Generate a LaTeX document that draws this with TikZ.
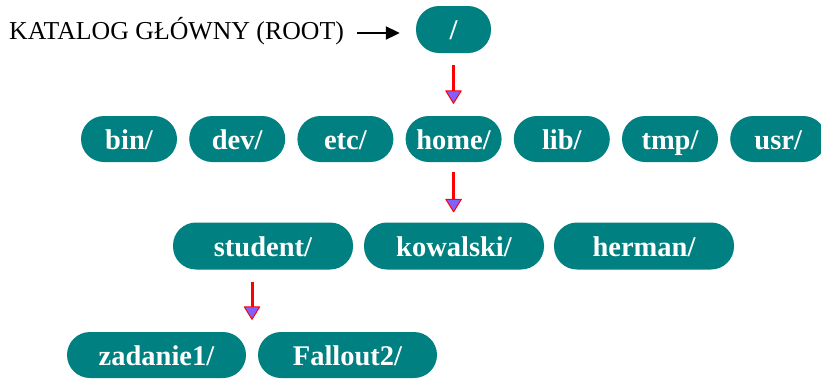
\documentclass[tikz,border=0pt]{standalone}
\usepackage{fontspec}
\setmainfont{Liberation Serif}
\usetikzlibrary{arrows.meta,calc}
\definecolor{dirfill}{RGB}{0,128,128}
\definecolor{tipfill}{RGB}{128,96,255}
\tikzset{
  dir/.style={fill=dirfill, text=white, rounded corners=23pt, inner sep=0pt,
    text height=20pt, text depth=0pt,
    font=\fontsize{28.5}{30}\selectfont\bfseries},
  small/.style={dir, minimum width=96pt, minimum height=46pt},
  wide/.style={dir, minimum width=180pt, minimum height=47pt},
  down/.style={red, line width=3pt,
    -{Triangle[width=17pt,length=14pt,line width=1pt,fill=tipfill,round]}},
  pointer/.style={black, line width=2pt, -{Triangle[width=13pt,length=14pt]}}
}
\begin{document}
\begin{tikzpicture}[x=1pt,y=-1pt]
  \clip (0,0) rectangle (821,378);
  % root of the tree and its caption
  \node[dir, minimum width=75pt, minimum height=47pt] (root) at (453.5,29.5) {/};
  \node[anchor=base west, inner sep=0pt, font=\fontsize{25.8}{27}\selectfont]
    (caption) at (9,39) {KATALOG GŁÓWNY (ROOT)};
  % first level
  \node[small] (bin)  at (129,139)   {bin/};
  \node[small] (dev)  at (237.2,139) {dev/};
  \node[small] (etc)  at (345.4,139) {etc/};
  \node[small] (home) at (453.6,139) {home/};
  \node[small] (lib)  at (561.8,139) {lib/};
  \node[small] (tmp)  at (670,139)   {tmp/};
  \node[small] (usr)  at (778.2,139) {usr/};
  % inside home/
  \node[wide] (student)  at (263,246) {student/};
  \node[wide] (kowalski) at (454,246) {kowalski/};
  \node[wide] (herman)   at (644,246) {herman/};
  % inside student/
  \node[wide, minimum width=179pt, minimum height=46pt] (zadanie) at (156.5,355) {zadanie1/};
  \node[wide, minimum width=179pt, minimum height=46pt] (fallout) at (347.5,355) {Fallout2/};
  \coordinate (gap) at ($(zadanie.north east)!0.5!(fallout.north west)$);
  % connectors
  \draw[pointer, shorten <=13pt, shorten >=16pt]
    ([yshift=6pt]caption.base east) -- ([yshift=6pt]caption.base east -| root.west);
  \draw[down, shorten <=12pt, shorten >=12pt] (root.south) -- (root.south |- home.north);
  \draw[down, shorten <=10pt, shorten >=10pt] (home.south) -- (home.south |- kowalski.north);
  \draw[down, shorten <=12pt, shorten >=12pt] (gap |- student.south) -- (gap);
\end{tikzpicture}
\end{document}
